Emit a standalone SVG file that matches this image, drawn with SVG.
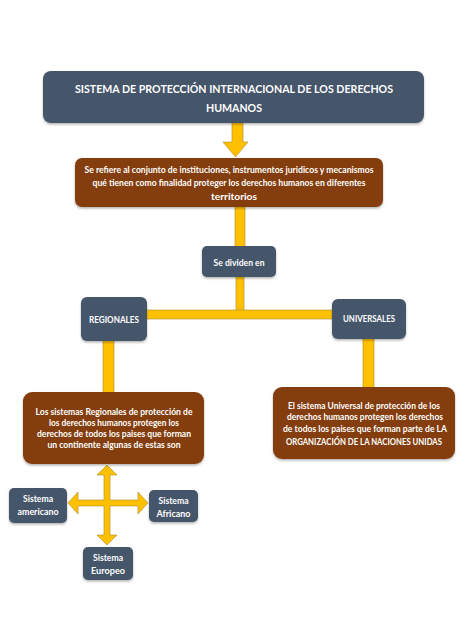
<svg xmlns="http://www.w3.org/2000/svg" width="474" height="632" viewBox="0 0 474 632">
<defs>
<style>
.slate{fill:#44546a;}
.brown{fill:#843c0c;}
.conn{fill:#ffc000;stroke:#a88a2a;stroke-width:0.6;}
text{font-family:Lato,"Open Sans","Liberation Sans",sans-serif;font-weight:bold;fill:#ffffff;text-anchor:middle;}
.t1{font-size:12px;}
.t2{font-size:9px;}
</style>
<filter id="sh" x="-10%" y="-10%" width="120%" height="130%">
<feDropShadow dx="0" dy="1.5" stdDeviation="1.2" flood-color="#000" flood-opacity="0.3"/>
</filter>
</defs>
<rect width="474" height="632" fill="#ffffff"/>
<g id="connectors">
<polygon class="conn" points="232,122 243,122 243,142 248,142 235.5,157 223,142 232,142"/>
<rect class="conn" x="235" y="206" width="10" height="41"/>
<rect class="conn" x="236" y="276" width="8" height="36"/>
<rect class="conn" x="146" y="310" width="187" height="9"/>
<rect class="conn" x="103" y="340" width="11" height="53"/>
<rect class="conn" x="363" y="338" width="11" height="50"/>
<polygon class="conn" points="107,465 117,475 110,475 110,500 138,500 138,492 148,503 138,514 138,506 110,506 110,535 117,535 107,545 97,535 104,535 104,506 78,506 78,514 68,503 78,492 78,500 104,500 104,475 97,475"/>
</g>
<g id="title">
<rect class="slate" x="43" y="71" width="381" height="52" rx="8" filter="url(#sh)"/>
<text class="t1" x="234" y="93" textLength="318" lengthAdjust="spacingAndGlyphs">SISTEMA DE PROTECCIÓN INTERNACIONAL DE LOS DERECHOS</text>
<text class="t1" x="234" y="112" textLength="56" lengthAdjust="spacingAndGlyphs">HUMANOS</text>
</g>
<g id="definition">
<rect class="brown" x="75" y="158" width="308" height="49" rx="7" filter="url(#sh)"/>
<text class="t2" x="229" y="173" textLength="289" lengthAdjust="spacingAndGlyphs">Se refiere al conjunto de instituciones, instrumentos juridicos y mecanismos</text>
<text class="t2" x="229" y="186" textLength="273" lengthAdjust="spacingAndGlyphs">qué tienen como finalidad proteger los derechos humanos en diferentes</text>
<text class="t2" x="234" y="200" textLength="46" lengthAdjust="spacingAndGlyphs">territorios</text>
</g>
<g id="sedividen">
<rect class="slate" x="202" y="246" width="74" height="31" rx="5" filter="url(#sh)"/>
<text class="t2" x="239" y="266" textLength="51" lengthAdjust="spacingAndGlyphs">Se dividen en</text>
</g>
<g id="regionales">
<rect class="slate" x="81" y="297" width="66" height="44" rx="6" filter="url(#sh)"/>
<text class="t2" x="114" y="323" textLength="50" lengthAdjust="spacingAndGlyphs">REGIONALES</text>
</g>
<g id="universales">
<rect class="slate" x="332" y="299" width="74" height="40" rx="6" filter="url(#sh)"/>
<text class="t2" x="369" y="322" textLength="52" lengthAdjust="spacingAndGlyphs">UNIVERSALES</text>
</g>
<g id="regionales-desc">
<rect class="brown" x="23" y="392" width="181" height="72" rx="9" filter="url(#sh)"/>
<text class="t2" x="114" y="415" textLength="157" lengthAdjust="spacingAndGlyphs">Los sistemas Regionales de protección de</text>
<text class="t2" x="114" y="426" textLength="130" lengthAdjust="spacingAndGlyphs">los derechos humanos protegen los</text>
<text class="t2" x="114" y="437" textLength="154" lengthAdjust="spacingAndGlyphs">derechos de todos los paises que forman</text>
<text class="t2" x="114" y="448" textLength="133" lengthAdjust="spacingAndGlyphs">un continente algunas de estas son</text>
</g>
<g id="universales-desc">
<rect class="brown" x="273" y="387" width="182" height="72" rx="9" filter="url(#sh)"/>
<text class="t2" x="364" y="409" textLength="152" lengthAdjust="spacingAndGlyphs">El sistema Universal de protección de los</text>
<text class="t2" x="365" y="420" textLength="156" lengthAdjust="spacingAndGlyphs">derechos humanos protegen los derechos</text>
<text class="t2" x="365" y="432" textLength="164" lengthAdjust="spacingAndGlyphs">de todos los paises que forman parte de LA</text>
<text class="t2" x="364" y="445" textLength="156" lengthAdjust="spacingAndGlyphs">ORGANIZACIÓN DE LA NACIONES UNIDAS</text>
</g>
<g id="americano">
<rect class="slate" x="9" y="488" width="58" height="35" rx="5" filter="url(#sh)"/>
<text class="t2" x="38" y="502" textLength="30" lengthAdjust="spacingAndGlyphs">Sistema</text>
<text class="t2" x="38" y="515" textLength="41" lengthAdjust="spacingAndGlyphs">americano</text>
</g>
<g id="africano">
<rect class="slate" x="149" y="490" width="49" height="32" rx="5" filter="url(#sh)"/>
<text class="t2" x="173.5" y="504" textLength="30" lengthAdjust="spacingAndGlyphs">Sistema</text>
<text class="t2" x="173.5" y="517" textLength="34" lengthAdjust="spacingAndGlyphs">Africano</text>
</g>
<g id="europeo">
<rect class="slate" x="83" y="547" width="50" height="33" rx="5" filter="url(#sh)"/>
<text class="t2" x="108" y="561" textLength="30" lengthAdjust="spacingAndGlyphs">Sistema</text>
<text class="t2" x="108" y="574" textLength="34" lengthAdjust="spacingAndGlyphs">Europeo</text>
</g>
</svg>
